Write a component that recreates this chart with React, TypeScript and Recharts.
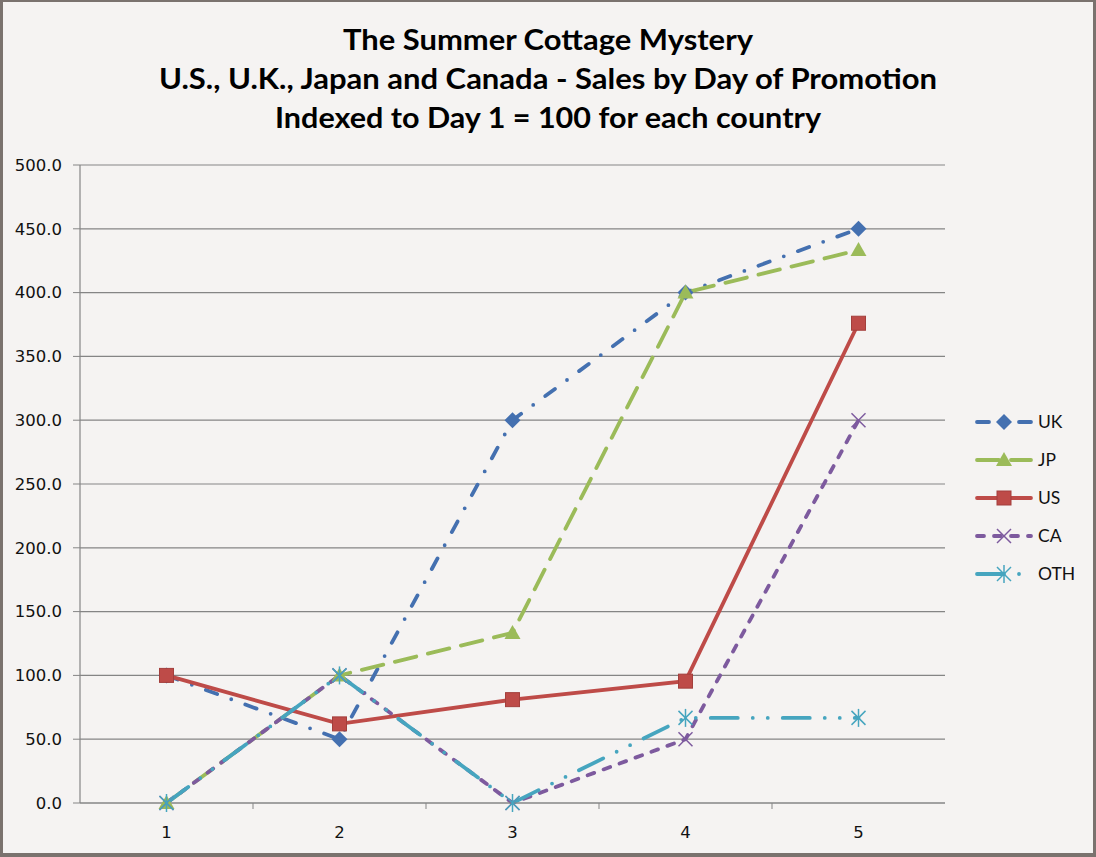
import React from 'react';
import { CartesianGrid, Line, LineChart, XAxis, YAxis } from 'recharts';

const TITLE_LINES = [
  'The Summer Cottage Mystery',
  'U.S., U.K., Japan and Canada - Sales by Day of Promotion',
  'Indexed to Day 1 = 100 for each country',
];
const TITLE_WIDTHS = [410, 778, 546];

const DAYS = [1, 2, 3, 4, 5];
const UK = [100, 50, 300, 400, 450];
const JP = [0, 100, 133.3, 400, 433.3];
const US = [100, 62, 81, 95.5, 376];
const CA = [0, 100, 0, 50, 300];
const OTH = [0, 100, 0, 66.7, 66.7];
const Y_TICKS = [0, 50, 100, 150, 200, 250, 300, 350, 400, 450, 500];
// category labels plus the in-between tick marks
const X_TICKS = [1, 1.5, 2, 2.5, 3, 3.5, 4, 4.5, 5];

const data = DAYS.map((day, i) => ({
  day,
  UK: UK[i],
  JP: JP[i],
  US: US[i],
  CA: CA[i],
  OTH: OTH[i],
}));

const GRID = '#858585';
const BG = '#f5f3f2';

type MarkerProps = { cx?: number; cy?: number; color: string; kind: string };

const Marker = ({ cx = 0, cy = 0, color, kind }: MarkerProps) => {
  if (kind === 'diamond') {
    return (
      <polygon
        points={`${cx},${cy - 8} ${cx + 8},${cy} ${cx},${cy + 8} ${cx - 8},${cy}`}
        fill={color}
      />
    );
  }
  if (kind === 'triangle') {
    return (
      <polygon
        points={`${cx},${cy - 8} ${cx + 8},${cy + 6} ${cx - 8},${cy + 6}`}
        fill={color}
      />
    );
  }
  if (kind === 'square') {
    return (
      <rect x={cx - 7} y={cy - 7} width={14} height={14} fill={color} stroke="#a33f3c" strokeWidth={1} />
    );
  }
  if (kind === 'x') {
    return (
      <g stroke={color} strokeWidth={1.5}>
        <line x1={cx - 7} y1={cy - 7} x2={cx + 7} y2={cy + 7} />
        <line x1={cx - 7} y1={cy + 7} x2={cx + 7} y2={cy - 7} />
      </g>
    );
  }
  return (
    <g stroke={color} strokeWidth={1.5}>
      <line x1={cx - 7} y1={cy - 7} x2={cx + 7} y2={cy + 7} />
      <line x1={cx - 7} y1={cy + 7} x2={cx + 7} y2={cy - 7} />
      <line x1={cx} y1={cy - 9} x2={cx} y2={cy + 9} />
    </g>
  );
};

const SERIES = [
  { key: 'UK', color: '#4470b0', dash: '12 15 0 15', marker: 'diamond' },
  { key: 'JP', color: '#9bbb59', dash: '22 12', marker: 'triangle' },
  { key: 'US', color: '#be4b48', dash: undefined, marker: 'square' },
  { key: 'CA', color: '#7d5a9e', dash: '7 10', marker: 'x' },
  { key: 'OTH', color: '#46a5bf', dash: '27 15 0 15 0 15', marker: 'star' },
];

const XTick = (props: any) => {
  const { x, y, payload } = props;
  const v = payload.value;
  if (Number.isInteger(v)) {
    return (
      <text x={x} y={y + 35} textAnchor="middle" fontFamily="DejaVu Sans" fontSize={16.5} fill="#111">
        {v}
      </text>
    );
  }
  return <line x1={x} y1={y} x2={x} y2={y + 6} stroke={GRID} strokeWidth={1} />;
};

const App = () => {
  return (
    <div style={{ position: 'absolute', left: 0, top: 0, width: 1096, height: 857, background: BG }}>
      <LineChart
        width={1096}
        height={857}
        data={data}
        margin={{ top: 165, right: 151, bottom: 0, left: 0 }}
      >
        <CartesianGrid vertical={false} stroke={GRID} strokeWidth={1.2} />
        <XAxis
          dataKey="day"
          type="number"
          domain={[0.5, 5.5]}
          ticks={X_TICKS}
          interval={0}
          tick={<XTick />}
          tickLine={false}
          tickSize={0}
          tickMargin={0}
          height={54}
          axisLine={{ stroke: GRID, strokeWidth: 1.2 }}
        />
        <YAxis
          domain={[0, 500]}
          ticks={Y_TICKS}
          width={80}
          interval={0}
          tickSize={7}
          tickMargin={11}
          tickFormatter={(v: number) => v.toFixed(1)}
          tick={{ fontFamily: 'DejaVu Sans', fontSize: 16.5, fill: '#111' }}
          tickLine={{ stroke: GRID }}
          axisLine={{ stroke: GRID, strokeWidth: 1.2 }}
        />
        {SERIES.map((s) => (
          <Line
            key={s.key}
            dataKey={s.key}
            type="linear"
            stroke={s.color}
            strokeWidth={3.8}
            strokeDasharray={s.dash}
            strokeLinecap="round"
            isAnimationActive={false}
            dot={(p: any) => (
              <Marker key={`${s.key}-${p.index}`} cx={p.cx} cy={p.cy} color={s.color} kind={s.marker} />
            )}
            activeDot={false}
          />
        ))}
      </LineChart>

      <svg
        width={1096}
        height={857}
        style={{ position: 'absolute', left: 0, top: 0, pointerEvents: 'none' }}
      >
        {TITLE_LINES.map((t, i) => (
          <text
            key={t}
            x={548}
            y={50 + i * 39}
            textAnchor="middle"
            fontFamily="Lato"
            fontWeight="bold"
            fontSize={29}
            fill="#000"
            textLength={TITLE_WIDTHS[i]}
            lengthAdjust="spacingAndGlyphs"
          >
            {t}
          </text>
        ))}
        {SERIES.map((s, i) => {
          const y = 422 + i * 38;
          return (
            <g key={s.key}>
              <line
                x1={977}
                y1={y}
                x2={1031}
                y2={y}
                stroke={s.color}
                strokeWidth={3.8}
                strokeDasharray={s.dash}
                strokeLinecap="round"
              />
              <Marker cx={1004} cy={y} color={s.color} kind={s.marker} />
              <text x={1038} y={y + 6} fontFamily="Lato" fontSize={17.5} fill="#111">
                {s.key}
              </text>
            </g>
          );
        })}
      </svg>
      <div
        style={{
          position: 'absolute',
          left: 0,
          top: 0,
          width: 1096,
          height: 857,
          boxSizing: 'border-box',
          borderStyle: 'solid',
          borderColor: '#7a726e',
          borderWidth: '2px 3px 4px 3px',
          pointerEvents: 'none',
        }}
      />
    </div>
  );
};

export default App;
